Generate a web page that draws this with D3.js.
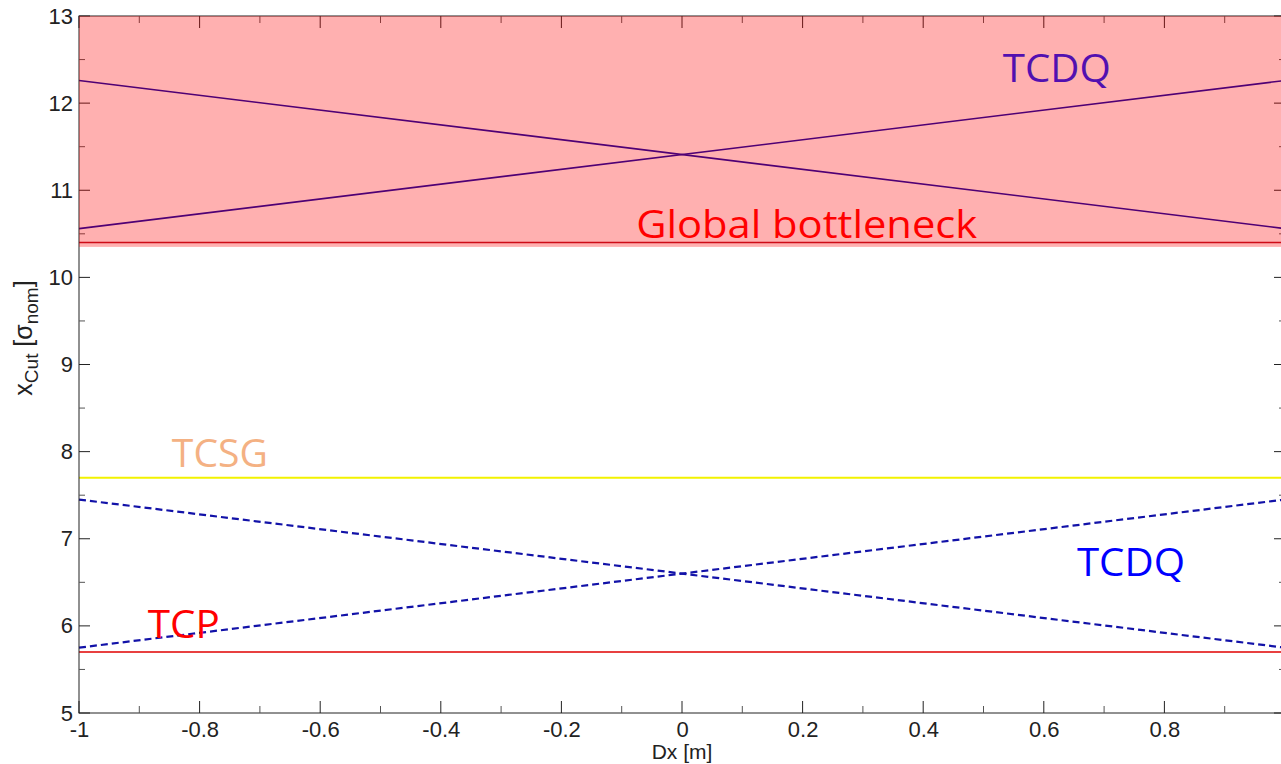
<!DOCTYPE html>
<html>
<head>
<meta charset="utf-8">
<script src="https://cdn.jsdelivr.net/npm/d3@7"></script>
<style>
  body { margin: 0; background: #fff; }
  text { font-family: "Liberation Sans", Arial, sans-serif; }
  .lbl { font-family: "Open Sans", "Noto Sans", sans-serif; }
</style>
</head>
<body>
<svg id="chart" width="1281" height="764"></svg>
<script>
// data
const dx = [-1, 1];
const tcdqDown = [12.26, 10.56];       // solid, top band
const tcdqUp = [10.56, 12.26];
const tcdqDownDashed = [7.45, 5.75];   // dashed, lower part
const tcdqUpDashed = [5.75, 7.45];
const globalBottleneck = 10.4;
const bandFloor = 10.35;
const tcsg = 7.7;
const tcp = 5.7;

const xTicks = [-1, -0.8, -0.6, -0.4, -0.2, 0, 0.2, 0.4, 0.6, 0.8, 1];
const xTickLabels = ["-1", "-0.8", "-0.6", "-0.4", "-0.2", "0", "0.2", "0.4", "0.6", "0.8", ""];
const yTicks = [5, 6, 7, 8, 9, 10, 11, 12, 13];
const xMinor = d3.range(-0.9, 1, 0.2).map(v => +v.toFixed(1));
const yMinor = d3.range(5.5, 13, 1);

// text labels [text, x, y, colour]
const labels = [
    ["TCDQ", 0.532, 12.24, "#5210b0"],
    ["Global bottleneck", -0.076, 10.45, "#ff0000"],
    ["TCSG", -0.846, 7.82, "#f4b183"],
    ["TCDQ", 0.655, 6.57, "#0000ff"],
    ["TCP", -0.886, 5.86, "#ff0000"]
]
const labelWidth = { "TCDQ": 108, "Global bottleneck": 341, "TCSG": 96, "TCP": 72 };

let svg = d3.select("#chart");

let x = d3.scaleLinear().domain([-1, 1]).range([79, 1285]);
let y = d3.scaleLinear().domain([5, 13]).range([713, 16]);

let pLeft = x(-1), pRight = x(1), pTop = y(13), pBottom = y(5);

// lines first, the translucent band sits over them
let line = d3.line().x(d => x(d[0])).y(d => y(d[1]));
let seg = vals => dx.map((v, i) => [v, vals[i]]);

function drawLine(data, color, width, dash) {
    svg.append("path")
        .attr("d", line(data))
        .attr("fill", "none")
        .attr("stroke", color)
        .attr("stroke-width", width)
        .attr("stroke-dasharray", dash || null);
}

drawLine(seg(tcdqDown), "#0000a8", 1.6);
drawLine(seg(tcdqUp), "#0000a8", 1.6);
drawLine(seg([globalBottleneck, globalBottleneck]), "#b81020", 1.6);
drawLine(seg([tcsg, tcsg]), "#f2f200", 2);
drawLine(seg([tcp, tcp]), "#e00000", 1.5);
drawLine(seg(tcdqDownDashed), "#1212a8", 2.2, "7,4");
drawLine(seg(tcdqUpDashed), "#1212a8", 2.2, "7,4");

// axes box and ticks
let axes = svg.append("g");
axes.append("rect")
    .attr("x", pLeft).attr("y", pTop)
    .attr("width", pRight - pLeft).attr("height", pBottom - pTop)
    .attr("fill", "none").attr("stroke", "#222").attr("stroke-width", 1);

let xa = d3.axisBottom(x).tickValues(xTicks).tickSize(0).tickPadding(8)
    .tickFormat((d, i) => xTickLabels[i]);
axes.append("g").attr("transform", "translate(0," + pBottom + ")").call(xa)
    .call(g => g.select(".domain").remove())
    .selectAll("text").style("font-size", "22px").attr("fill", "#222")
    .attr("font-family", null);

let ya = d3.axisLeft(y).tickValues(yTicks).tickSize(0).tickPadding(6);
axes.append("g").attr("transform", "translate(" + pLeft + ",0)").call(ya)
    .call(g => g.select(".domain").remove())
    .selectAll("text").style("font-size", "22px").attr("fill", "#222")
    .attr("font-family", null);

// inward tick marks on all four sides
let tk = axes.append("g").attr("stroke-width", 1);
for (let v of xTicks) {
    tk.append("line").attr("x1", x(v)).attr("x2", x(v)).attr("y1", pBottom).attr("y2", pBottom - 12).attr("stroke", "#222");
    tk.append("line").attr("x1", x(v)).attr("x2", x(v)).attr("y1", pTop).attr("y2", pTop + 12).attr("stroke", "#222");
}
for (let v of xMinor) {
    tk.append("line").attr("x1", x(v)).attr("x2", x(v)).attr("y1", pBottom).attr("y2", pBottom - 7).attr("stroke", "#555");
    tk.append("line").attr("x1", x(v)).attr("x2", x(v)).attr("y1", pTop).attr("y2", pTop + 7).attr("stroke", "#555");
}
for (let v of yTicks) {
    tk.append("line").attr("x1", pLeft).attr("x2", pLeft + 11).attr("y1", y(v)).attr("y2", y(v)).attr("stroke", "#222");
    tk.append("line").attr("x1", pRight).attr("x2", pRight - 11).attr("y1", y(v)).attr("y2", y(v)).attr("stroke", "#222");
}
for (let v of yMinor) {
    tk.append("line").attr("x1", pLeft).attr("x2", pLeft + 6).attr("y1", y(v)).attr("y2", y(v)).attr("stroke", "#555");
    tk.append("line").attr("x1", pRight).attr("x2", pRight - 6).attr("y1", y(v)).attr("y2", y(v)).attr("stroke", "#555");
}

// translucent red band over the top part
svg.append("rect")
    .attr("x", pLeft).attr("y", pTop)
    .attr("width", pRight - pLeft).attr("height", y(bandFloor) - pTop)
    .attr("fill", "rgb(255,0,0)").attr("fill-opacity", 0.31);

// axis titles
svg.append("text")
    .attr("x", x(0)).attr("y", 759)
    .attr("text-anchor", "middle")
    .style("font-size", "21px").attr("fill", "#222")
    .text("Dx [m]");

let yl = svg.append("text")
    .attr("transform", "translate(32,338) rotate(-90)")
    .attr("text-anchor", "middle")
    .style("font-size", "25px").attr("fill", "#222");
yl.append("tspan").text("x");
yl.append("tspan").attr("dy", 6).style("font-size", "19px").text("Cut");
yl.append("tspan").attr("dy", -6).text(" [σ");
yl.append("tspan").attr("dy", 6).style("font-size", "19px").text("nom");
yl.append("tspan").attr("dy", -6).text("]");

// annotation labels
svg.selectAll(".lbl").data(labels).enter()
    .append("text")
    .attr("class", "lbl")
    .attr("x", d => x(d[1]))
    .attr("y", d => y(d[2]))
    .attr("fill", d => d[3])
    .style("font-size", "38px")
    .attr("textLength", d => labelWidth[d[0]])
    .attr("lengthAdjust", "spacingAndGlyphs")
    .text(d => d[0]);
</script>
</body>
</html>
